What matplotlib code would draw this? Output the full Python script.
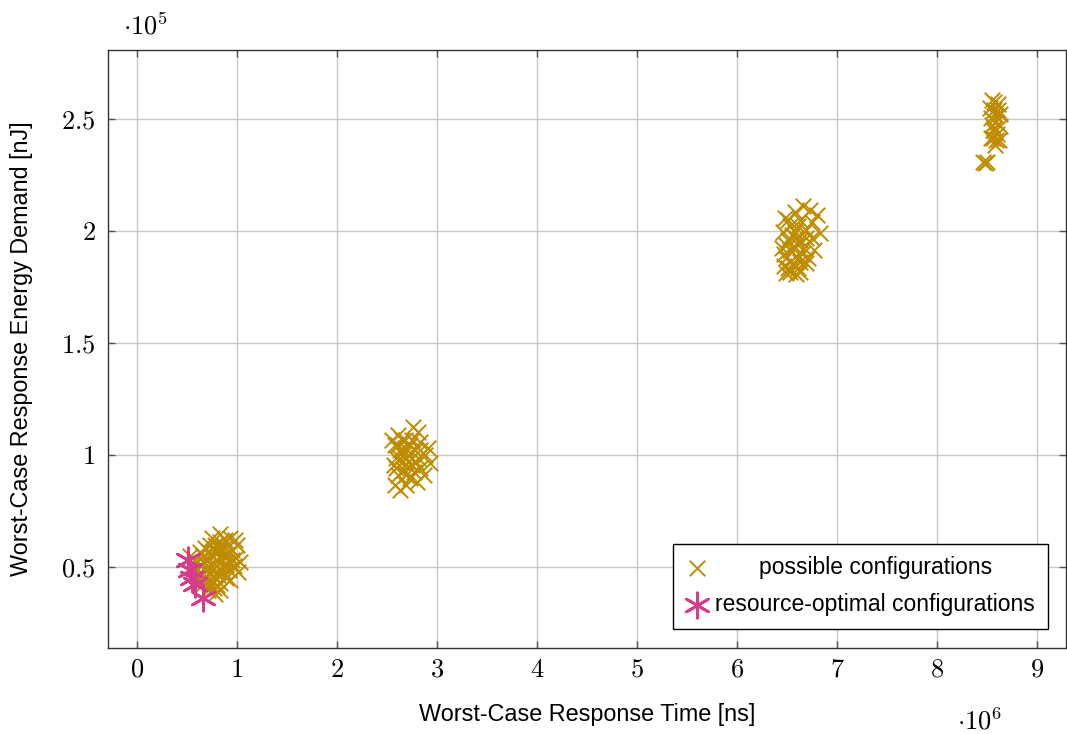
import matplotlib
matplotlib.use("Agg")
import matplotlib.pyplot as plt

plt.rcParams['mathtext.fontset'] = 'cm'
plt.rcParams['font.family'] = ['Liberation Sans', 'DejaVu Sans']

# possible configurations (response time in ns, energy in nJ)
possible_time = [
    # around 0.8e6
    530000, 580000, 630000, 680000, 730000, 780000, 830000, 880000, 930000, 980000,
    1000000, 950000, 910000, 990000, 1030000, 970000, 920000, 1010000, 890000, 830000,
    770000, 710000, 660000, 610000, 590000, 630000, 690000, 750000, 810000, 850000,
    790000, 730000, 690000, 770000, 830000, 890000, 750000, 830000, 930000, 630000,
    560000, 710000, 790000, 870000, 950000, 830000, 750000, 780000,
    660000, 720000, 770000, 820000, 690000, 750000, 810000, 870000, 650000, 730000,
    800000, 870000, 910000, 670000, 850000,
    # around 2.7e6
    2610000, 2760000, 2810000, 2680000, 2580000, 2630000, 2730000, 2830000, 2910000, 2880000,
    2930000, 2810000, 2710000, 2590000, 2570000, 2650000, 2750000, 2830000, 2870000, 2770000,
    2670000, 2610000, 2730000, 2800000, 2630000, 2580000, 2690000, 2550000, 2780000, 2660000,
    2610000, 2680000, 2750000, 2630000, 2710000, 2790000, 2590000, 2690000, 2830000, 2650000,
    # around 6.6e6
    6480000, 6580000, 6660000, 6730000, 6800000, 6750000, 6630000, 6530000, 6460000, 6580000,
    6690000, 6830000, 6750000, 6630000, 6510000, 6450000, 6560000, 6670000, 6770000, 6710000,
    6590000, 6490000, 6470000, 6570000, 6690000, 6530000, 6630000, 6490000, 6590000, 6530000,
    6610000, 6510000, 6550000, 6490000, 6610000, 6530000, 6630000, 6470000, 6590000, 6690000,
    6510000, 6610000, 6650000,
    # around 8.6e6
    8550000, 8610000, 8570000, 8630000, 8540000, 8590000, 8630000, 8560000, 8600000, 8540000,
    8620000, 8580000, 8550000, 8610000, 8530000, 8570000, 8590000, 8570000, 8590000, 8560000,
    8460000, 8500000, 8480000,
]
possible_energy = [
    54910, 53125, 56696, 58482, 59821, 59821, 61161, 62054, 62946, 62054,
    59821, 57589, 55357, 54018, 52232, 50446, 48661, 47768, 45089, 42857,
    40625, 39732, 42411, 45089, 48661, 50893, 53125, 54911, 56696, 53125,
    50446, 47768, 45089, 45982, 48661, 50893, 43304, 39732, 44196, 47768,
    50893, 50446, 53125, 58482, 53125, 64700, 62900, 37900,
    54911, 56696, 57589, 58929, 48661, 50446, 46429, 47768, 44196, 41518,
    41964, 55357, 53125, 51786, 50446,
    108929, 112500, 110268, 106696, 104464, 102232, 104464, 105804, 103125, 100000,
    96429, 98661, 100000, 98661, 95536, 96875, 95536, 94196, 91071, 92411,
    93304, 91071, 89732, 87946, 84375, 86607, 86607, 106696, 102232, 100000,
    104464, 103125, 106696, 98661, 96875, 96875, 94196, 91071, 102232, 106696,
    205804, 208482, 211161, 209375, 207143, 204018, 204911, 202232, 199554, 199554,
    200446, 199107, 196875, 195982, 195982, 192411, 192411, 192411, 191518, 187946,
    188839, 187946, 184375, 184821, 185714, 181696, 181696, 181250, 180804, 191518,
    202232, 204911, 198214, 193750, 193750, 186161, 186161, 189732, 196875, 196875,
    183482, 183482, 189732,
    258482, 256696, 254018, 252232, 250446, 248661, 246875, 245089, 243304, 241518,
    240625, 238393, 247321, 254018, 254911, 257589, 251339, 245982, 240625, 241518,
    230804, 230804, 230357,
]

# resource-optimal configurations
optimal_time = [510000, 530000, 550000, 580000, 660000]
optimal_energy = [53100, 48700, 45100, 42400, 36200]

xtick_values = [0, 1e6, 2e6, 3e6, 4e6, 5e6, 6e6, 7e6, 8e6, 9e6]
xtick_labels = ['0', '1', '2', '3', '4', '5', '6', '7', '8', '9']
ytick_values = [0.5e5, 1e5, 1.5e5, 2e5, 2.5e5]
ytick_labels = ['0.5', '1', '1.5', '2', '2.5']

gold = '#BE8C00'
pink = '#D63C8A'

fig = plt.figure(figsize=(10.67, 7.34), dpi=100)
ax = fig.add_axes([0.1012, 0.1172, 0.8978, 0.8147])

ax.scatter(possible_time, possible_energy, marker='x', s=125, linewidths=1.4,
           color=gold, label='possible configurations', zorder=3)
ax.scatter(optimal_time, optimal_energy, marker=(6, 2, 0), s=330, linewidths=2.0,
           color=pink, label='resource-optimal configurations', zorder=4)

ax.set_xlim(-290000, 9290000)
ax.set_ylim(13840, 280800)

ax.set_xticks(xtick_values)
ax.set_xticklabels(['$' + t + '$' for t in xtick_labels], fontsize=19)
ax.set_yticks(ytick_values)
ax.set_yticklabels(['$' + t + '$' for t in ytick_labels], fontsize=19)
ax.tick_params(direction='in', length=5, width=1, color='#555555',
               top=True, right=True)
ax.tick_params(axis='x', pad=7)
ax.tick_params(axis='y', pad=9)

ax.grid(True, color='#c8c8c8', linewidth=1)
ax.set_axisbelow(True)
for s in ax.spines.values():
    s.set_color('#333333')
    s.set_linewidth(1)

ax.set_xlabel('Worst-Case Response Time [ns]', fontsize=16.8, labelpad=15)
ax.set_ylabel('Worst-Case Response Energy Demand [nJ]', fontsize=16.8, labelpad=20)

fig.text(0.136, 0.965, r'$\cdot 10^{5}$', fontsize=19, ha='center', va='center')
fig.text(0.918, 0.018, r'$\cdot 10^{6}$', fontsize=19, ha='center', va='center')

leg = ax.legend(loc='lower right', fontsize=16.5, frameon=True, fancybox=False,
                edgecolor='black', framealpha=1, borderpad=0.55, labelspacing=0.6,
                handletextpad=0.3, handlelength=1.0, borderaxespad=0,
                bbox_to_anchor=(0.981, 0.032))
leg.get_frame().set_linewidth(1)

# center the first legend label like pgfplots does
fig.canvas.draw()
r = fig.canvas.get_renderer()
t1, t2 = leg.get_texts()
w1 = t1.get_window_extent(r).width
w2 = t2.get_window_extent(r).width
row1 = leg._legend_handle_box.get_children()[0].get_children()[0]
row1.sep += (w2 - w1) / 2 * 72 / fig.dpi

fig.savefig('out.png', dpi=100)
